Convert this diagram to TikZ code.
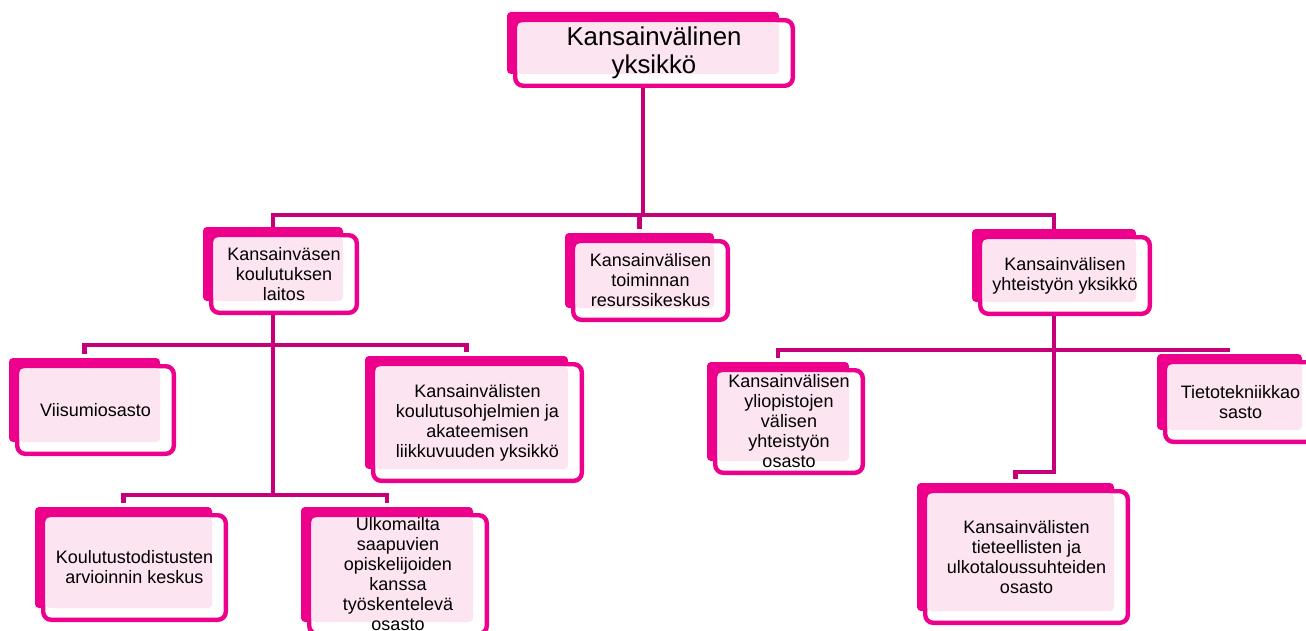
\documentclass[tikz,border=0pt]{standalone}
\usepackage{fontspec}
\setmainfont{Liberation Sans}
\usetikzlibrary{backgrounds}
\definecolor{boxmagenta}{RGB}{236,0,140}
\definecolor{boxpink}{RGB}{252,228,240}
\definecolor{linkmagenta}{RGB}{198,0,120}
% one unit: back plate, framed front, pink face, text
\newcommand{\unitbox}[7][]{%
  \node[back box, minimum width={(#5-#3)*0.5pt}, minimum height={(#6-#4)*0.5pt}] (#2-b) at ({(#3+#5)/2},{(#4+#6)/2}) {};
  \node[front box, minimum width={(#5-#3+10)*0.5pt-2.2pt}, minimum height={(#6-#4+8)*0.5pt-2.2pt}] (#2-f) at ({(#3+#5)/2+11},{(#4+#6)/2+10}) {};
  \fill[boxpink, rounded corners=2pt] ([shift={(1.1pt,-1.1pt)}]#2-f.north west) rectangle (#2-b.south east);
  \node[unit text,#1] (#2) at (#2-f.center) {#7};
}
\begin{document}
\begin{tikzpicture}[x=0.5pt, y=-0.5pt,
  back box/.style={rectangle, fill=boxmagenta, rounded corners=2pt, inner sep=0pt, outer sep=0pt},
  front box/.style={rectangle, draw=boxmagenta, fill=white, line width=2.2pt, rounded corners=4pt, inner sep=0pt, outer sep=0pt},
  unit text/.style={align=center, inner sep=0pt, font=\fontsize{9}{10}\selectfont},
  link/.style={draw=linkmagenta, line width=2.4pt}]
\useasboundingbox (0,0) rectangle (1306,631);

\unitbox[font=\fontsize{12.9}{14}\selectfont]{top}{507}{12}{779}{74}{Kansainvälinen\\yksikkö}
\unitbox{laitos}{203}{227}{343}{301}{Kansainväsen\\koulutuksen\\laitos}
\unitbox{resurssi}{565}{233}{714}{308}{Kansainvälisen\\toiminnan\\resurssikeskus}
\unitbox{yhteis}{972}{229}{1136}{302}{Kansainvälisen\\yhteistyön yksikkö}
\unitbox{viisumi}{9}{358}{160}{442}{Viisumiosasto}
\unitbox{ohjelmat}{365}{356}{568}{469}{Kansainvälisten\\koulutusohjelmien ja\\akateemisen\\liikkuvuuden yksikkö}
\unitbox{arviointi}{35}{507}{212}{608}{Koulutustodistusten\\arvioinnin keskus}
\unitbox{ulkomaat}{301}{507}{473}{622}{Ulkomailta\\saapuvien\\opiskelijoiden\\kanssa\\työskentelevä\\osasto}
\unitbox{yliopisto}{707}{362}{849}{461}{Kansainvälisen\\yliopistojen\\välisen\\yhteistyön\\osasto}
\unitbox{tieto}{1157}{354}{1302}{430}{Tietotekniikkao\\sasto}
\unitbox{tiede}{917}{483}{1114}{611}{Kansainvälisten\\tieteellisten ja\\ulkotaloussuhteiden\\osasto}

% bus points
\path (top-b.south) ++(0,141) coordinate (topbus);
\path (laitos-b.south) ++(0,44) coordinate (laitosbus);
\path (laitos-b.south) ++(0,194) coordinate (laitoslow);
\path (yhteis-b.south) ++(0,48) coordinate (yhteisbus);
\path (yhteis-b.south) ++(0,170) coordinate (yhteislow);

\begin{scope}[on background layer]
\draw[link] (top-b.south) -- (topbus);
\draw[link] (laitos-b.north) |- (topbus) -| (yhteis-b.north);
\draw[link, shorten >=2pt] (topbus) -| (resurssi-b.north);
\draw[link] (laitos-b.south) -- (laitoslow);
\draw[link, shorten <=2pt, shorten >=2pt] (viisumi-b.north) |- (laitosbus) -| (ohjelmat-b.north);
\draw[link, shorten <=2pt, shorten >=2pt] (arviointi-b.north) |- (laitoslow) -| (ulkomaat-b.north);
\draw[link, shorten >=2pt] (yhteis-b.south) -- (yhteislow) -| (tiede-b.north);
\draw[link, shorten <=2pt, shorten >=2pt] (yliopisto-b.north) |- (yhteisbus) -| (tieto-b.north);
\end{scope}
\end{tikzpicture}
\end{document}
